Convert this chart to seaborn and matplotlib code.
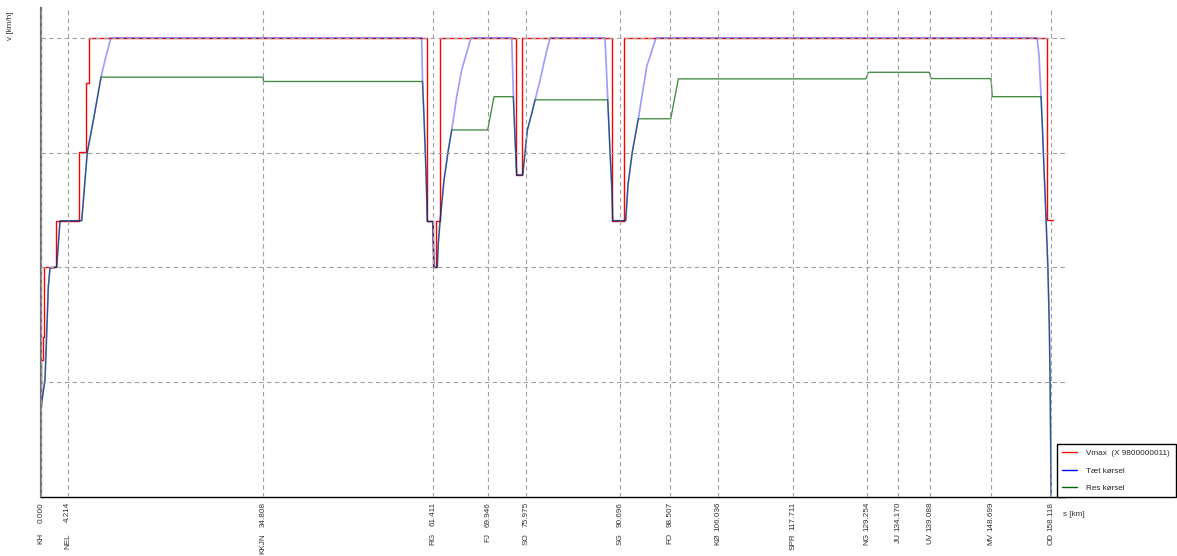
import matplotlib
matplotlib.use("Agg")
import matplotlib.pyplot as plt
import matplotlib.transforms as mtransforms
from matplotlib.lines import Line2D
import seaborn as sns
import pandas as pd

# ---------------- data ----------------
station_names = ["KH", "NEL", "KKJN", "RG", "FJ", "SO", "SG", "FO", "KØ", "SPR",
                 "NG", "JU", "UV", "MV", "OD"]
station_km = [0.000, 4.214, 34.808, 61.411, 69.946, 75.975, 90.696, 98.507, 106.036,
              117.711, 129.254, 134.170, 139.088, 148.699, 158.118]

# Vmax (speed limit), step profile: value valid from s until next s
vmax_s = [0.0, 0.06, 0.28, 0.41, 2.29, 6.01, 7.01, 7.58, 60.43, 61.42, 61.89, 62.47,
          74.36, 75.35, 89.44, 91.31, 157.40, 158.44]
vmax_v = [31.5, 47.7, 55.9, 80.0, 96.2, 120.1, 144.2, 160.0, 96.2, 80.0, 96.2, 160.0,
          112.2, 160.0, 96.3, 160.0, 96.6, 96.6]

# Tæt kørsel
taet_s = [0.0, 0.03, 0.64, 0.91, 1.16, 1.42, 2.47, 2.99, 6.39, 7.26, 8.31, 9.41, 10.19, 10.97,
          59.60, 59.73, 59.96, 60.28, 60.48, 61.32, 61.53, 62.04, 62.20, 62.47, 63.10, 63.77,
          64.30, 65.08, 65.86, 67.32,
          73.69, 73.94, 74.22, 74.48, 75.41, 75.77, 76.14, 76.83, 77.35, 78.13, 78.91, 79.69,
          88.29, 88.50, 88.72, 89.08, 89.39, 89.50, 91.53, 91.89, 92.57, 93.51, 94.82, 96.28,
          155.91, 156.22, 156.54, 156.74, 156.90, 157.33, 157.61, 157.84, 157.96, 158.12]
taet_v = [0.0, 31.5, 40.8, 57.2, 73.3, 79.7, 80.2, 96.2, 96.3, 120.1, 132.5, 146.3, 153.7, 160.0,
          160.0, 145.0, 132.6, 113.0, 96.0, 96.0, 80.0, 80.0, 88.4, 96.0, 110.5, 120.9,
          127.9, 139.5, 148.8, 160.0,
          160.0, 141.0, 124.4, 112.2, 112.2, 119.8, 127.9, 133.7, 138.4, 145.3, 153.0, 160.0,
          160.0, 150.0, 138.6, 120.3, 106.4, 96.3, 96.3, 108.7, 120.3, 131.8, 150.0, 160.0,
          160.0, 154.1, 139.5, 129.7, 120.3, 96.6, 80.2, 58.9, 40.4, 0.0]

# Res kørsel
res_s = [0.0, 0.03, 0.64, 0.91, 1.16, 1.42, 2.47, 2.99, 6.39, 7.26, 8.31, 9.41, 34.80, 34.83,
         59.73, 59.96, 60.28, 60.48, 61.32, 61.53, 62.04, 62.20, 62.47, 63.10, 63.77, 64.30,
         69.93, 70.92, 73.94, 74.22, 74.48, 75.41, 75.77, 76.14, 76.83, 77.35,
         88.72, 89.08, 89.39, 89.50, 91.53, 91.89, 92.57, 93.51, 98.58, 99.77,
         129.14, 129.50, 139.05, 139.32, 148.71, 148.91,
         156.54, 156.74, 156.90, 157.33, 157.61, 157.84, 157.96, 158.12]
res_v = [0.0, 31.5, 40.8, 57.2, 73.3, 79.7, 80.2, 96.2, 96.3, 120.1, 132.5, 146.3, 146.3, 144.8,
         144.8, 132.6, 113.0, 96.0, 96.0, 80.0, 80.0, 88.4, 96.0, 110.5, 120.9, 127.9,
         127.9, 139.5, 139.5, 124.4, 112.2, 112.2, 119.8, 127.9, 133.7, 138.4,
         138.4, 120.3, 106.4, 96.3, 96.3, 108.7, 120.3, 131.8, 131.8, 145.7,
         145.7, 148.0, 148.0, 145.8, 145.8, 139.5,
         139.5, 129.7, 120.3, 96.6, 80.2, 58.9, 40.4, 0.0]

legend_labels = ["Vmax  (X 9800000011)", "Tæt kørsel", "Res kørsel"]

# ---------------- style ----------------
sns.set_style("white")
plt.rcParams["font.family"] = ["Liberation Sans", "DejaVu Sans"]

W, H = 1177, 556
FS = 5.9
fig = plt.figure(figsize=(W / 100, H / 100), dpi=100)
ax_left, ax_right, ax_top, ax_bottom = 40.9, 1065.0, 8.0, 497.0
ax = fig.add_axes([ax_left / W, 1 - ax_bottom / H, (ax_right - ax_left) / W,
                   (ax_bottom - ax_top) / H])

RED, BLUE, GREEN = "#ff0000", "#0000ff", "#006400"

df_red = pd.DataFrame({"s": vmax_s, "v": vmax_v})
df_blue = pd.DataFrame({"s": taet_s, "v": taet_v})
df_green = pd.DataFrame({"s": res_s, "v": res_v})

sns.lineplot(data=df_red, x="s", y="v", ax=ax, color=RED, lw=1.0, estimator=None,
             sort=False, drawstyle="steps-post", zorder=2)
sns.lineplot(data=df_green, x="s", y="v", ax=ax, color=GREEN, lw=0.95, alpha=0.75,
             estimator=None, sort=False, zorder=2.1)
sns.lineplot(data=df_blue, x="s", y="v", ax=ax, color=BLUE, lw=1.25, alpha=0.38,
             estimator=None, sort=False, zorder=2.2)

ax.set_xlim(0, (ax_right - ax_left) / 6.389)
ax.set_ylim(0, 170.4)

ax.set_yticks([40, 80, 120, 160])
ax.set_yticklabels([])
ax.tick_params(axis="y", length=0)

ax.set_xticks(station_km)
ax.set_xticklabels([f"{k:.3f}" for k in station_km], rotation=90, fontsize=FS,
                   color="#333333", va="top")
ax.tick_params(axis="x", length=3, width=0.8, color="#555555", pad=0.5)

ax.grid(True, color="#a0a0a0", linestyle=(0, (4, 3)), lw=0.8)
ax.set_axisbelow(False)

for side in ["top", "right"]:
    ax.spines[side].set_visible(False)
ax.spines["left"].set_color("#707070")
ax.spines["left"].set_linewidth(1.6)
ax.spines["bottom"].set_color("black")
ax.spines["bottom"].set_linewidth(1.0)

ax.set_xlabel("")
ax.set_ylabel("")

trans = mtransforms.blended_transform_factory(ax.transData, ax.transAxes)
name_y = -(533 - ax_bottom) / (ax_bottom - ax_top)
for name, km in zip(station_names, station_km):
    ax.text(km, name_y, name, transform=trans, rotation=90, ha="center", va="top",
            fontsize=FS, color="#333333")

fig.text(1063 / W, 1 - 514 / H, "s [km]", fontsize=FS, color="#333333",
         ha="left", va="center")
fig.text(11 / W, 1 - 11 / H, "v [km/h]", fontsize=FS, color="#333333",
         rotation=90, ha="center", va="top")

handles = [Line2D([], [], color=RED, lw=1.0), Line2D([], [], color=BLUE, lw=1.0),
           Line2D([], [], color=GREEN, lw=1.0)]
leg = ax.legend(handles, legend_labels, loc="lower right",
                bbox_to_anchor=(1175.5 / W, 1 - ax_bottom / H), bbox_transform=fig.transFigure,
                fontsize=FS, frameon=True, fancybox=False, framealpha=1, edgecolor="black",
                handlelength=1.8, handletextpad=1.2, labelspacing=1.15, borderpad=0.65,
                borderaxespad=0)
leg.get_frame().set_linewidth(1.0)

fig.savefig("out.png", dpi=100)
